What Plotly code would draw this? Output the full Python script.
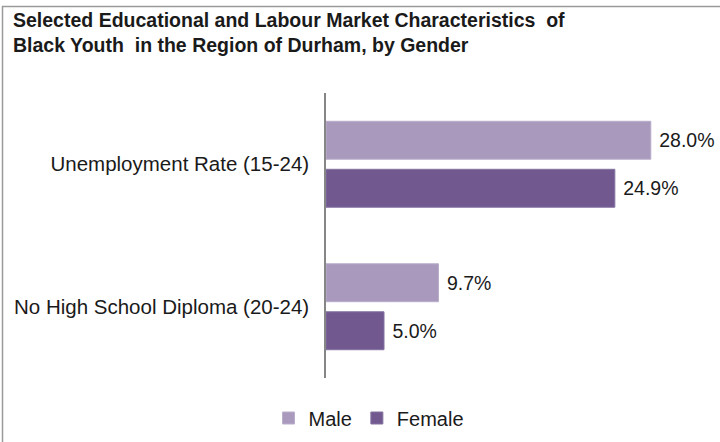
import plotly.graph_objects as go

categories = ["Unemployment Rate (15-24)", "No High School Diploma (20-24)"]
male = [28.0, 9.7]
female = [24.9, 5.0]
title_lines = ["Selected Educational and Labour Market Characteristics  of",
               "Black Youth  in the Region of Durham, by Gender"]

W, H = 720, 442
L, R, T, B = 326, 46, 93, 64
pw, ph = W - L - R, H - T - B

def px_x(x):
    return (x - L) / pw

def px_y(y):
    return (H - B - y) / ph

FONT = "Liberation Sans, Arial, sans-serif"

fig = go.Figure()
fig.add_trace(go.Bar(
    y=categories, x=male, name="Male", orientation="h",
    marker=dict(color="#A99ABD", line=dict(color="#B9AECB", width=1)),
    texttemplate=" %{x:.1f}%", textposition="outside",
    textfont=dict(size=19.5, color="#1a1a1a", family=FONT),
    cliponaxis=False, constraintext="none",
))
fig.add_trace(go.Bar(
    y=categories, x=female, name="Female", orientation="h",
    marker=dict(color="#71588F", line=dict(color="#8473A0", width=1)),
    texttemplate=" %{x:.1f}%", textposition="outside",
    textfont=dict(size=19.5, color="#1a1a1a", family=FONT),
    cliponaxis=False, constraintext="none",
))

fig.update_layout(
    width=W, height=H,
    margin=dict(l=L, r=R, t=T, b=B, pad=0, autoexpand=False),
    paper_bgcolor="white", plot_bgcolor="white",
    barmode="group", bargap=0.326, bargroupgap=0.21,
    font=dict(family=FONT, size=20, color="#1a1a1a"),
    xaxis=dict(range=[0, 30], visible=False, fixedrange=True),
    yaxis=dict(
        autorange="reversed", showline=True, linecolor="#868686", linewidth=1.5,
        ticks="", showgrid=False, zeroline=False,
        tickfont=dict(size=20.5, color="#1a1a1a", family=FONT),
        ticklabelstandoff=11,
    ),
    legend=dict(
        orientation="h", x=px_x(369), xanchor="center",
        yref="container", y=(H - 418) / H, yanchor="middle",
        font=dict(size=20, color="#1a1a1a", family=FONT),
        itemwidth=30, tracegroupgap=0,
    ),
    showlegend=True,
    annotations=[dict(
        text="<b>" + "<br>".join(title_lines) + "</b>",
        xref="paper", yref="paper", x=px_x(11), y=px_y(7),
        xanchor="left", yanchor="top", align="left", showarrow=False,
        font=dict(size=19.5, color="#1a1a1a", family=FONT),
    )],
    shapes=[dict(
        type="rect", xref="paper", yref="paper",
        x0=px_x(2.5), x1=px_x(740), y0=px_y(6.5), y1=px_y(460),
        line=dict(color="#9a9a9a", width=1.5), layer="below",
    )],
)

fig.write_html("out.html")
